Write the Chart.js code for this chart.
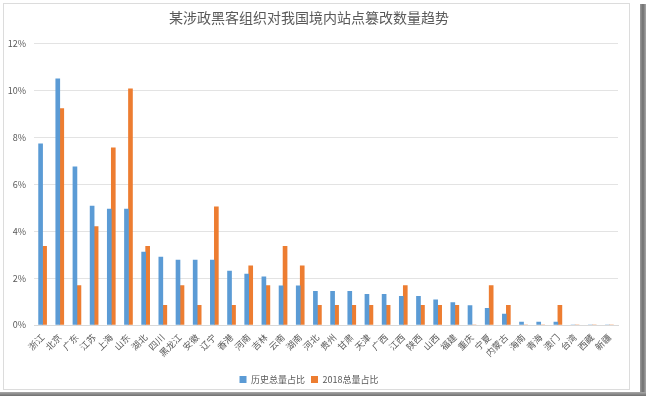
<!DOCTYPE html>
<html>
<head>
<meta charset="utf-8">
<script src="https://cdn.jsdelivr.net/npm/chart.js@4"></script>
<style>
  html, body { margin: 0; padding: 0; background: #fff; }
  #wrap { position: relative; width: 648px; height: 396px; overflow: hidden; }
  #frame { position: absolute; left: 3px; top: 3px; width: 627px; height: 387px; border: 1px solid #dcdcdc; box-sizing: border-box; }
  #shadowR { position: absolute; left: 640px; top: 4px; width: 6px; height: 392px; background: linear-gradient(to right, #9a9a9a, #707070, #a8a8a8); }
  #shadowB { position: absolute; left: 0px; top: 392px; width: 646px; height: 4px; background: linear-gradient(to bottom, #a8a8a8, #707070); }
  canvas { position: absolute; left: 0; top: 0; }
</style>
</head>
<body>
<div id="wrap">
  <div id="frame"></div>
  <div id="shadowR"></div>
  <div id="shadowB"></div>
  <canvas id="c" width="648" height="396"></canvas>
</div>
<script>
const categories = ["浙江","北京","广东","江苏","上海","山东","湖北","四川","黑龙江","安徽","辽宁","香港","河南","吉林","云南","湖南","河北","贵州","甘肃","天津","广西","江西","陕西","山西","福建","重庆","宁夏","内蒙古","海南","青海","澳门","台湾","西藏","新疆"];
const historyShare = [7.73,10.51,6.75,5.07,4.95,4.95,3.11,2.90,2.77,2.77,2.77,2.30,2.17,2.06,1.67,1.67,1.44,1.44,1.44,1.31,1.31,1.22,1.22,1.07,0.96,0.83,0.71,0.47,0.12,0.12,0.12,0,0,0];
const share2018 = [3.36,9.24,1.68,4.20,7.56,10.08,3.36,0.84,1.68,0.84,5.04,0.84,2.52,1.68,3.36,2.52,0.84,0.84,0.84,0.84,0.84,1.68,0.84,0.84,0.84,0,1.68,0.84,0,0,0.84,0,0,0];
const seriesNames = ["历史总量占比","2018总量占比"];
const yTicks = [0,2,4,6,8,10,12];
const titleText = "某涉政黑客组织对我国境内站点篡改数量趋势";

const FONT = "'Noto Sans CJK SC', 'Noto Sans', sans-serif";
const TXT = "#595959";

new Chart(document.getElementById('c'), {
  type: 'bar',
  data: {
    labels: categories,
    datasets: [
      { label: seriesNames[0], data: historyShare, backgroundColor: '#5B9BD5', barThickness: 4 },
      { label: seriesNames[1], data: share2018, backgroundColor: '#ED7D31', barThickness: 4 }
    ]
  },
  options: {
    responsive: false,
    animation: false,
    layout: { padding: { top: 9, right: 30, left: 0, bottom: 2 } },
    datasets: { bar: { categoryPercentage: 0.58, barPercentage: 0.8 } },
    plugins: {
      title: {
        display: true, text: titleText, color: TXT,
        font: { family: FONT, size: 14, weight: 'normal' },
        padding: { top: 0, bottom: 18 }
      },
      legend: {
        position: 'bottom',
        labels: {
          color: TXT, font: { family: FONT, size: 9 },
          boxWidth: 7, boxHeight: 7, padding: 6
        }
      },
      tooltip: { enabled: false }
    },
    scales: {
      x: {
        grid: { display: false, drawTicks: false },
        border: { display: true, color: '#d9d9d9' },
        ticks: {
          color: TXT, font: { family: FONT, size: 9 },
          maxRotation: 45, minRotation: 45, autoSkip: false, padding: 7
        },
        afterFit: (s) => { s.height = 44; }
      },
      y: {
        min: 0, max: 12,
        afterBuildTicks: (s) => { s.ticks = yTicks.map(v => ({ value: v })); },
        grid: { color: '#e3e3e3', drawTicks: false },
        border: { display: false },
        ticks: {
          color: TXT, font: { family: FONT, size: 9 }, padding: 8,
          callback: (v) => v + '%'
        },
        afterFit: (s) => { s.width = 34; }
      }
    }
  }
});
</script>
</body>
</html>
